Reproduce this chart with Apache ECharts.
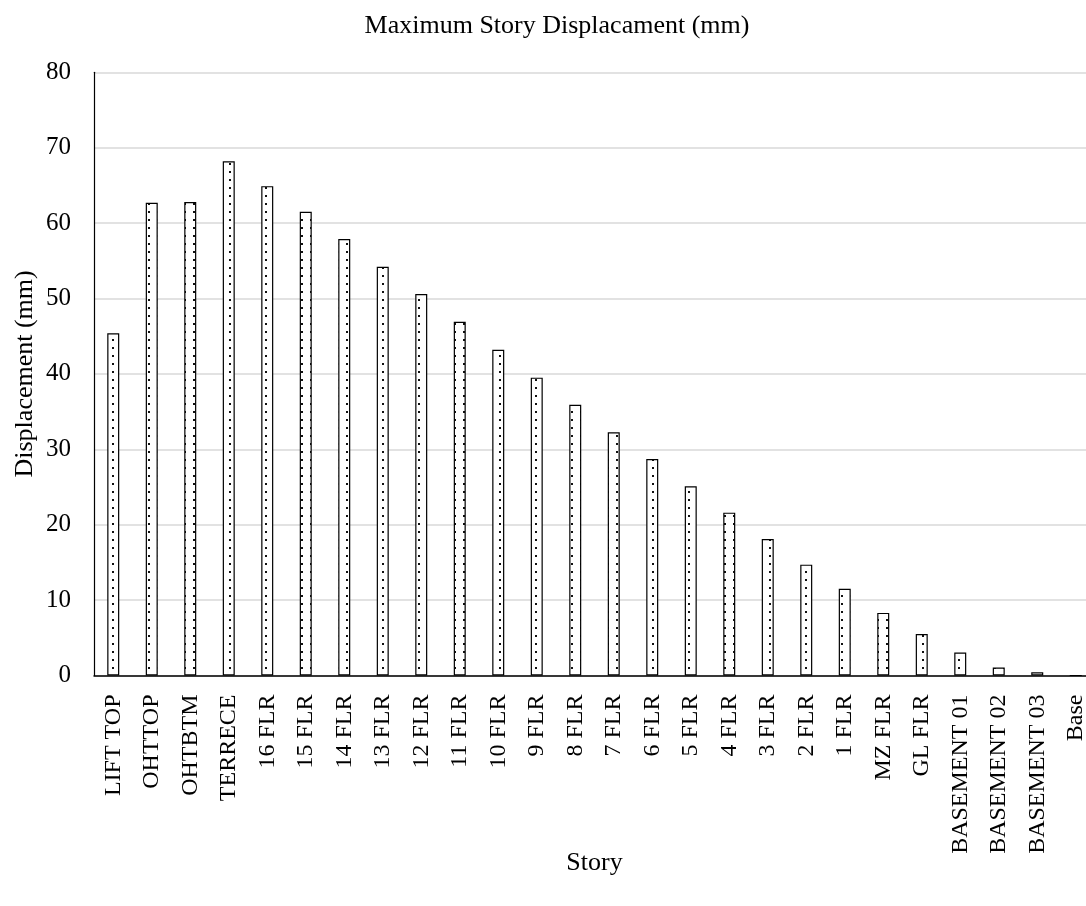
<!DOCTYPE html>
<html>
<head>
<meta charset="utf-8">
<script src="https://cdn.jsdelivr.net/npm/echarts@6/dist/echarts.min.js"></script>
<style>
  html, body { margin: 0; padding: 0; background: #fff; }
  #chart { width: 1086px; height: 906px; }
</style>
</head>
<body>
<div id="chart"></div>
<script>
const titleText = 'Maximum Story Displacament (mm)';
const xAxisName = 'Story';
const yAxisName = 'Displacement (mm)';
const stories = ['LIFT TOP', 'OHTTOP', 'OHTBTM', 'TERRECE', '16 FLR', '15 FLR', '14 FLR', '13 FLR', '12 FLR', '11 FLR', '10 FLR', '9 FLR', '8 FLR', '7 FLR', '6 FLR', '5 FLR', '4 FLR', '3 FLR', '2 FLR', '1 FLR', 'MZ FLR', 'GL FLR', 'BASEMENT 01', 'BASEMENT 02', 'BASEMENT 03', 'Base'];
const displacement = [45.4, 62.7, 62.8, 68.2, 64.9, 61.5, 57.9, 54.2, 50.6, 46.9, 43.2, 39.5, 35.9, 32.25, 28.7, 25.1, 21.6, 18.1, 14.7, 11.5, 8.3, 5.5, 3.05, 1.05, 0.42, 0];

const FONT = '"Liberation Serif", "Times New Roman", serif';

// dotted fill pattern
const pat = document.createElement('canvas');
pat.width = 9; pat.height = 8;
const pctx = pat.getContext('2d');
pctx.fillStyle = '#ffffff';
pctx.fillRect(0, 0, 9, 8);
pctx.fillStyle = '#111111';
pctx.fillRect(4, 3, 2, 2);

const chart = echarts.init(document.getElementById('chart'), null, { renderer: 'canvas' });
chart.setOption({
  backgroundColor: '#ffffff',
  animation: false,
  title: {
    text: titleText,
    left: 552,
    top: 8,
    textAlign: 'center',
    textStyle: { fontFamily: FONT, fontSize: 26, fontWeight: 'normal', color: '#000' }
  },
  grid: {
    left: 94,
    top: 72.3,
    width: 1001,
    height: 603.2,
    containLabel: false,
    outerBoundsMode: 'none'
  },
  xAxis: {
    type: 'category',
    data: stories,
    name: xAxisName,
    nameLocation: 'middle',
    nameGap: 175,
    nameMoveOverlap: false,
    nameTextStyle: { fontFamily: FONT, fontSize: 26, color: '#000' },
    axisLine: { show: true, lineStyle: { color: '#000', width: 1.5 } },
    axisTick: { show: false },
    axisLabel: {
      interval: 0,
      rotate: 90,
      margin: 19,
      fontFamily: FONT,
      fontSize: 24,
      color: '#000'
    },
    splitLine: { show: false }
  },
  yAxis: {
    type: 'value',
    min: 0,
    max: 80,
    interval: 10,
    name: yAxisName,
    nameLocation: 'middle',
    nameRotate: 90,
    nameGap: 56,
    nameMoveOverlap: false,
    nameTextStyle: { fontFamily: FONT, fontSize: 26, color: '#000' },
    axisLine: { show: true, lineStyle: { color: '#000', width: 1.2 } },
    axisTick: { show: false },
    axisLabel: { margin: 23, fontFamily: FONT, fontSize: 25, color: '#000' },
    splitLine: { show: true, lineStyle: { color: '#d9d9d9', width: 1.5 } }
  },
  series: [{
    type: 'bar',
    data: displacement,
    barWidth: 12,
    itemStyle: {
      color: { image: pat, repeat: 'repeat' },
      borderColor: '#000',
      borderWidth: 1.2
    }
  }]
});
</script>
</body>
</html>
